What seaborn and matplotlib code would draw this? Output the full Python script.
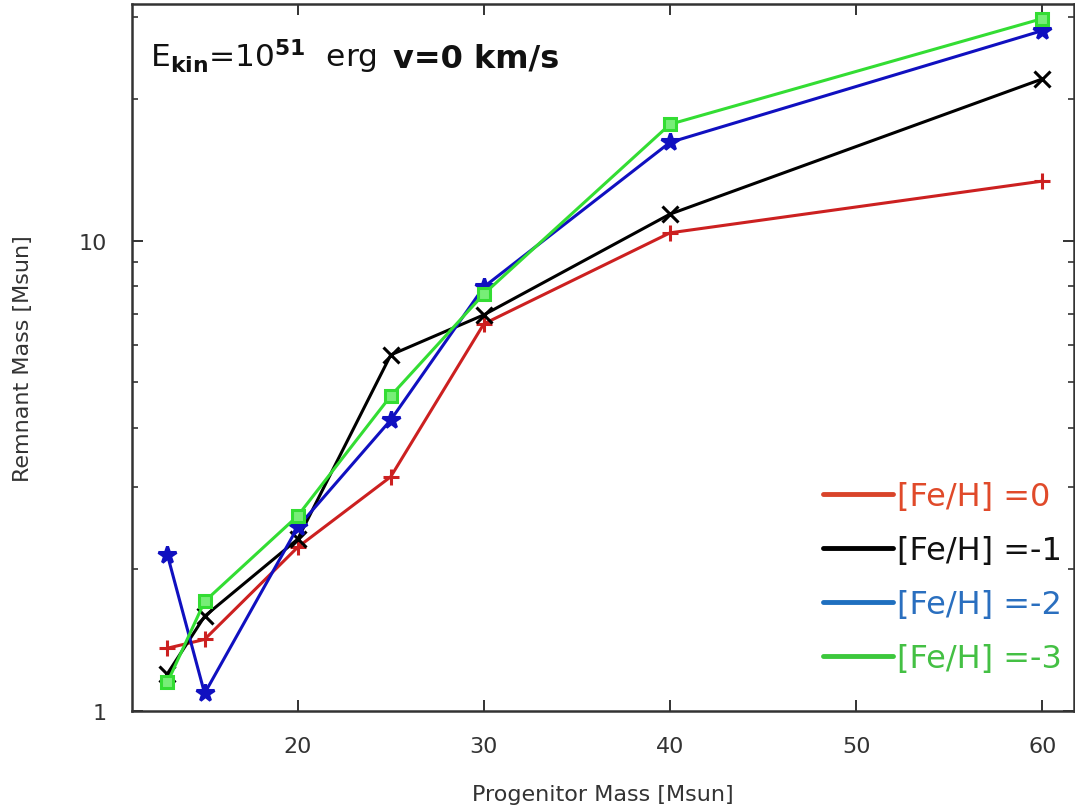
import matplotlib
matplotlib.use("Agg")
import matplotlib.pyplot as plt
import seaborn as sns
import pandas as pd
from matplotlib.lines import Line2D
from matplotlib.ticker import NullFormatter, LogLocator

# ---- data ----
progenitor_mass = [13, 15, 20, 25, 30, 40, 60]
feh_0 = [1.36, 1.42, 2.23, 3.15, 6.66, 10.4, 13.4]
feh_m1 = [1.20, 1.59, 2.32, 5.72, 6.96, 11.4, 22.1]
feh_m2 = [2.15, 1.09, 2.46, 4.16, 7.98, 16.2, 28.0]
feh_m3 = [1.15, 1.71, 2.60, 4.68, 7.71, 17.7, 29.7]
series_labels = ["[Fe/H] =0", "[Fe/H] =-1", "[Fe/H] =-2", "[Fe/H] =-3"]
x_ticks = [20, 30, 40, 50, 60]

sns.set_style("ticks")
plt.rcParams['font.family'] = ['DejaVu Sans']

fig = plt.figure(figsize=(10.75, 8.12), dpi=100)
ax = fig.add_axes([132/1075, 100/812, (1074-132)/1075, (712-5)/812])

series = [feh_0, feh_m1, feh_m2, feh_m3]
line_colors = ["#cc2020", "#000000", "#1010c0", "#33dd33"]
markers = ["+", "x", "*", "s"]
msizes = [12, 11, 13, 9]

for vals, col, mk, ms, lab in zip(series, line_colors, markers, msizes, series_labels):
    df = pd.DataFrame({"x": progenitor_mass, "y": vals})
    sns.lineplot(data=df, x="x", y="y", ax=ax, color=col, lw=2.2,
                 marker=mk, markersize=ms, markeredgewidth=2.2,
                 markeredgecolor=col,
                 markerfacecolor=(col if mk != "s" else "#77ee77"),
                 legend=False, sort=False)

ax.set_yscale("log")
ax.set_xlim(11.1, 61.7)
ax.set_ylim(1, 31.9)
ax.set_xticks(x_ticks)
ax.set_xticklabels([str(t) for t in x_ticks])
ax.set_yticks([1, 10])
ax.set_yticklabels(["1", "10"])

for s in ax.spines.values():
    s.set_visible(True)
    s.set_color("#333333")
    s.set_linewidth(1.8)

ax.tick_params(axis="both", which="major", direction="in", length=8, width=1.4,
               colors="#333333", labelcolor="#333333", labelsize=16,
               top=True, right=True)
ax.tick_params(axis="y", which="major", pad=18)
ax.tick_params(axis="x", which="major", pad=18)
ax.yaxis.set_minor_locator(LogLocator(base=10, subs=[2, 3, 4, 5, 6, 7, 8, 9]))
ax.yaxis.set_minor_formatter(NullFormatter())
ax.tick_params(axis="y", which="minor", direction="in", length=4.5, width=1.2,
               colors="#333333", right=True, left=True, labelleft=False)

ax.set_xlabel("Progenitor Mass [Msun]", fontsize=16, color="#333333", labelpad=20)
ax.set_ylabel("Remnant Mass [Msun]", fontsize=16, color="#333333", labelpad=33)

# annotation
ax.text(0.019, 0.912, r"E$_{\mathbf{kin}}$=10$^{\mathbf{51}}$  erg", transform=ax.transAxes,
        fontsize=22.5, ha="left", va="baseline", color="#111111")
ax.text(0.277, 0.912, "v=0 km/s", transform=ax.transAxes,
        fontsize=23, ha="left", va="baseline", color="#111111", fontweight="bold")

# legend
leg_line_colors = ["#d9442a", "#000000", "#1f6fbf", "#3cc83c"]
leg_text_colors = ["#e04a2a", "#111111", "#2a6fbf", "#44c044"]
handles = [Line2D([0], [0], color=c, lw=3.5) for c in leg_line_colors]
leg = ax.legend(handles, series_labels, loc="lower right",
                bbox_to_anchor=(1.018, 0.012), frameon=False,
                fontsize=23, handlelength=2.2, handletextpad=0.12,
                labelspacing=0.72)
for t, c in zip(leg.get_texts(), leg_text_colors):
    t.set_color(c)

fig.savefig("out.png", dpi=100)
